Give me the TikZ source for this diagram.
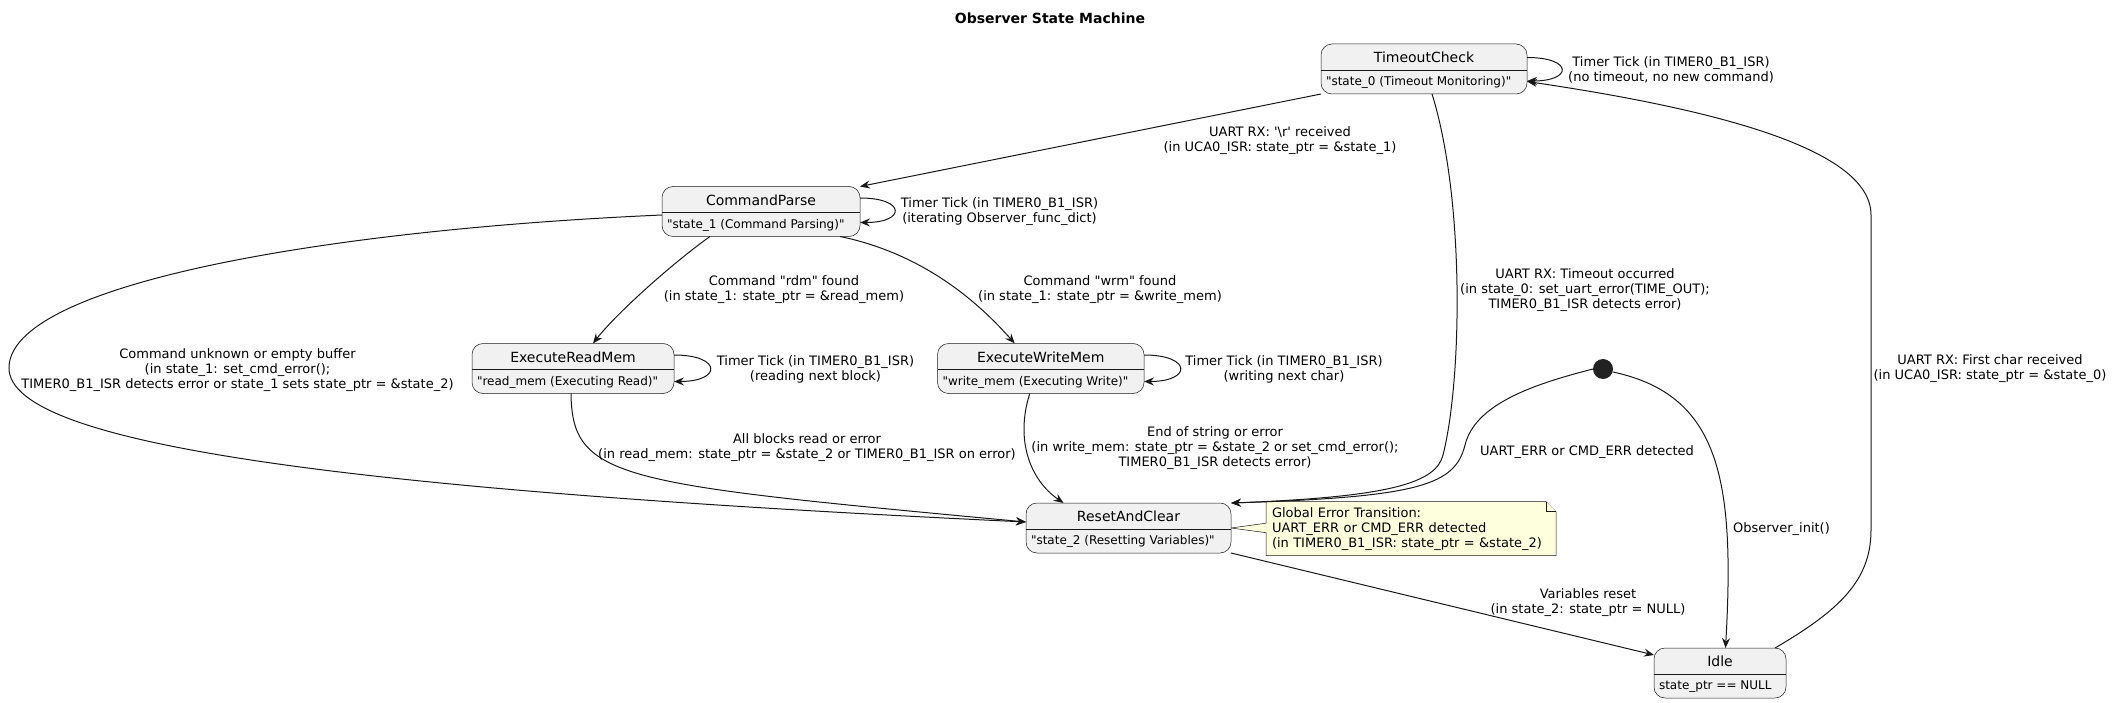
\documentclass[tikz,border=0pt]{standalone}
\usepackage{fontspec}
\newfontfamily\umlfont{DejaVu Sans}
\usepackage{tikz}
\usetikzlibrary{arrows.meta, backgrounds}
\definecolor{StateGray}  {HTML}{F1F1F1}
\definecolor{EdgeBlack}  {HTML}{181818}
\definecolor{NoteYellow} {HTML}{FEFFDD}
\definecolor{DotBlack}   {HTML}{222222}

\begin{document}
\begin{tikzpicture}[
  x=1pt, y=-1pt,
  every node/.style={font=\umlfont\fontsize{13}{15}\selectfont, inner sep=0pt, outer sep=0pt},
  statebox/.style={draw=EdgeBlack, line width=0.5pt, fill=StateGray,
    rounded corners=11pt, minimum height=50pt},
  statename/.style={font=\umlfont\fontsize{14}{16}\selectfont},
  statedesc/.style={font=\umlfont\fontsize{12}{14}\selectfont, anchor=west},
  trans/.style={draw=EdgeBlack, line width=1pt,
    -{Stealth[length=10pt, width=8pt, inset=3.5pt]}},
  lbl/.style={align=center},
  notebox/.style={draw=EdgeBlack, line width=0.5pt, fill=NoteYellow},
]
\useasboundingbox (0,0) rectangle (2112,703);

% Title
\node[font=\umlfont\bfseries\fontsize{14}{16}\selectfont] (title) at (1050,18)
  {Observer State Machine};

% States: name/x/y/width/title/description
\foreach \nm/\cx/\cy/\bw/\ttl/\dsc in {
    timeout/1424/69/206/TimeoutCheck/"state\_0 (Timeout Monitoring)",
    cmdparse/761/211.5/198/CommandParse/"state\_1 (Command Parsing)",
    readmem/573/368.5/202/ExecuteReadMem/"read\_mem (Executing Read)",
    writemem/1040.75/368.5/206.5/ExecuteWriteMem/"write\_mem (Executing Write)",
    reset/1128.5/528/205/ResetAndClear/"state\_2 (Resetting Variables)",
    idle/1720/673/132/Idle/state\_ptr == NULL} {
  \node[statebox, minimum width=\bw pt] (\nm) at (\cx,\cy) {};
  \draw[EdgeBlack, line width=0.5pt]
    ([yshift=-26pt]\nm.north west) -- ([yshift=-26pt]\nm.north east);
  \node[statename] (\nm-name) at ([yshift=-13.5pt]\nm.north) {\ttl};
  \node[statedesc] (\nm-desc) at ([xshift=5pt, yshift=-38.5pt]\nm.north west) {\dsc};
}

% Initial pseudo state
\node[circle, fill=DotBlack, minimum size=20pt] (init) at (1603,369) {};

% Self loops
\draw[trans] ([yshift=11.5pt]timeout.east) .. controls +(46,0) and +(46,0) .. ([yshift=-12pt]timeout.east);
\draw[trans] ([yshift=13.5pt]cmdparse.east) .. controls +(46,0) and +(46,0) .. ([yshift=-11pt]cmdparse.east);
\draw[trans] ([yshift=13.5pt]readmem.east) .. controls +(48,0) and +(48,0) .. ([yshift=-13pt]readmem.east);
\draw[trans] ([yshift=13.5pt]writemem.east) .. controls +(48,0) and +(48,0) .. ([yshift=-13pt]writemem.east);

% Transitions
\draw[trans] (timeout.south west) -- (cmdparse.north east);
\draw[trans] ([xshift=-51pt]cmdparse.south) .. controls (670,265) and (615,315) .. ([xshift=20pt]readmem.north);
\draw[trans] ([xshift=79pt]cmdparse.south) .. controls (930,255) and (985,310) .. ([xshift=-26pt]writemem.north);
\draw[trans] ([yshift=-3.5pt]cmdparse.west) .. controls (320,230) and (9,285) .. (9,368)
  .. controls (9,445) and (350,490) .. ([yshift=6pt]reset.west);
\draw[trans] ([xshift=-2pt]readmem.south) .. controls (572,480) and (620,484) .. ([yshift=6pt]reset.west);
\draw[trans] ([xshift=-11pt]writemem.south) .. controls (1015,440) and (1030,480) .. ([xshift=-65pt]reset.north);
\draw[trans] ([xshift=8pt]timeout.south) .. controls (1465,200) and (1462,380) .. (1443,455)
  .. controls (1436,483) and (1390,497) .. (reset.north east);
\draw[trans] (init.west) .. controls (1530,385) and (1475,405) .. (1465,445)
  .. controls (1455,485) and (1420,497) .. (reset.north east);
\draw[trans] ([yshift=-3pt]init.east) .. controls (1720,395) and (1735,480) .. ([xshift=5.5pt]idle.north);
\draw[trans] ([xshift=-11pt]idle.north east) .. controls (1840,610) and (1871,580) .. (1871,530)
  -- (1871,215) .. controls (1871,150) and (1720,110) .. ([yshift=-12.5pt]timeout.east);
\draw[trans] (reset.south east) -- ([yshift=-7pt]idle.north west);

% Transition labels
\node[lbl] (lbl-tloop) at (1671,69.5) {Timer Tick (in TIMER0\_B1\_ISR)\\(no timeout, no new command)};
\node[lbl] (lbl-cr) at (1280,140.8) {UART RX: '\textbackslash r' received\\(in UCA0\_ISR: state\_ptr = \&state\_1)};
\node[lbl] (lbl-cloop) at (999.5,212) {Timer Tick (in TIMER0\_B1\_ISR)\\(iterating Observer\_func\_dict)};
\node[lbl] (lbl-rdm) at (784,290) {Command "rdm" found\\(in state\_1: state\_ptr = \&read\_mem)};
\node[lbl] (lbl-wrm) at (1100,290) {Command "wrm" found\\(in state\_1: state\_ptr = \&write\_mem)};
\node[lbl] (lbl-tout) at (1585,290.5) {UART RX: Timeout occurred\\(in state\_0: set\_uart\_error(TIME\_OUT);\\TIMER0\_B1\_ISR detects error)};
\node[lbl] (lbl-rloop) at (815.5,369) {Timer Tick (in TIMER0\_B1\_ISR)\\(reading next block)};
\node[lbl] (lbl-wloop) at (1284,369) {Timer Tick (in TIMER0\_B1\_ISR)\\(writing next char)};
\node[lbl] (lbl-first) at (1990,369) {UART RX: First char received\\(in UCA0\_ISR: state\_ptr = \&state\_0)};
\node[lbl] (lbl-unknown) at (237.5,370) {Command unknown or empty buffer\\(in state\_1: set\_cmd\_error();\\TIMER0\_B1\_ISR detects error or state\_1 sets state\_ptr = \&state\_2)};
\node[lbl] (lbl-rdone) at (807,448) {All blocks read or error\\(in read\_mem: state\_ptr = \&state\_2 or TIMER0\_B1\_ISR on error)};
\node[lbl] (lbl-wdone) at (1215,448) {End of string or error\\(in write\_mem: state\_ptr = \&state\_2 or set\_cmd\_error();\\TIMER0\_B1\_ISR detects error)};
\node[lbl] (lbl-err) at (1587,452) {UART\_ERR or CMD\_ERR detected};
\node[anchor=west] (lbl-init) at (1733,529) {Observer\_init()};
\node[lbl] (lbl-vars) at (1588,603) {Variables reset\\(in state\_2: state\_ptr = NULL)};

% Note
\node[anchor=north west, minimum width=290pt, minimum height=54pt, inner xsep=6pt,
  text width=278pt, align=left] (errnote) at (1266,501.7)
  {Global Error Transition:\\UART\_ERR or CMD\_ERR detected\\(in TIMER0\_B1\_ISR: state\_ptr = \&state\_2)};
\begin{scope}[on background layer]
\draw[notebox] (errnote.north west) -- ([yshift=-21.5pt]errnote.north west) -- (reset.east)
  -- ([yshift=-31pt]errnote.north west) -- (errnote.south west) -- (errnote.south east)
  -- ([yshift=-10pt]errnote.north east) -- ([xshift=-10pt]errnote.north east) -- cycle;
\draw[notebox] ([xshift=-10pt]errnote.north east) -- ++(0,10) -- ++(10,0);
\end{scope}

\end{tikzpicture}
\end{document}
